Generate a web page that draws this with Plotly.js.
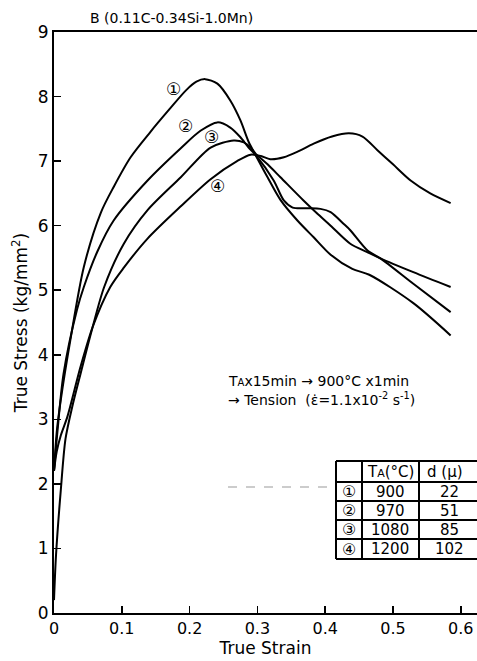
<!DOCTYPE html>
<html>
<head>
<meta charset="utf-8">
<script src="https://cdn.plot.ly/plotly-3.0.1.min.js"></script>
<style>html,body{margin:0;padding:0;background:#fff;}#chart{width:477px;height:661px;}</style>
</head>
<body>
<div id="chart"></div>
<script>
// ---- Data ----
const strain1 = [0, 0.004, 0.01, 0.024, 0.044, 0.069, 0.088, 0.113, 0.142, 0.17, 0.195, 0.21, 0.223, 0.241, 0.26, 0.275, 0.287, 0.297, 0.315, 0.334, 0.359, 0.383, 0.408, 0.44, 0.465, 0.53, 0.585];
const stress1 = [2.2, 2.8, 3.3, 4.22, 5.36, 6.2, 6.6, 7.06, 7.45, 7.8, 8.1, 8.23, 8.27, 8.2, 7.94, 7.63, 7.3, 7.1, 6.75, 6.4, 6.08, 5.82, 5.55, 5.33, 5.24, 4.8, 4.3];

const strain2 = [0, 0.005, 0.014, 0.034, 0.044, 0.064, 0.088, 0.138, 0.187, 0.216, 0.241, 0.26, 0.275, 0.287, 0.297, 0.324, 0.339, 0.352, 0.373, 0.393, 0.408, 0.427, 0.437, 0.462, 0.482, 0.53, 0.585];
const stress2 = [2.2, 2.8, 3.7, 4.7, 5.05, 5.6, 6.08, 6.7, 7.2, 7.47, 7.6, 7.52, 7.37, 7.21, 7.1, 6.7, 6.39, 6.28, 6.27, 6.26, 6.21, 6.03, 5.93, 5.62, 5.49, 5.1, 4.66];

const strain3 = [0, 0.003, 0.01, 0.017, 0.027, 0.039, 0.057, 0.074, 0.103, 0.138, 0.187, 0.231, 0.265, 0.28, 0.29, 0.297, 0.315, 0.334, 0.368, 0.387, 0.408, 0.437, 0.462, 0.482, 0.53, 0.585];
const stress3 = [0.2, 0.9, 1.9, 2.7, 3.2, 3.7, 4.43, 5.05, 5.72, 6.24, 6.75, 7.21, 7.32, 7.29, 7.21, 7.12, 6.95, 6.75, 6.39, 6.2, 6.0, 5.72, 5.59, 5.49, 5.28, 5.05];

const strain4 = [0, 0.004, 0.01, 0.02, 0.039, 0.057, 0.083, 0.103, 0.138, 0.187, 0.231, 0.27, 0.29, 0.305, 0.319, 0.339, 0.36, 0.383, 0.41, 0.435, 0.455, 0.477, 0.5, 0.526, 0.555, 0.585];
const stress4 = [2.2, 2.5, 2.75, 3.05, 3.81, 4.43, 5.05, 5.35, 5.8, 6.3, 6.72, 7.0, 7.1, 7.08, 7.03, 7.06, 7.15, 7.27, 7.38, 7.43, 7.38, 7.17, 6.95, 6.7, 6.5, 6.35];

const curveLabels = ['①', '②', '③', '④'];
const labelStrain = [0.176, 0.194, 0.232, 0.241];
const labelStress = [8.12, 7.55, 7.37, 6.61];

const tableHeaderTA = 'T<span style="font-size:11px">A</span>(°C)';
const tableHeaderD = 'd (μ)';
const tableTA = [900, 970, 1080, 1200];
const tableD = [22, 51, 85, 102];

const xTickVals = [0, 0.1, 0.2, 0.3, 0.4, 0.5, 0.6];
const xTickText = ['0', '0.1', '0.2', '0.3', '0.4', '0.5', '0.6'];
const yTickVals = [0, 1, 2, 3, 4, 5, 6, 7, 8, 9];

// ---- Layout helpers ----
const W = 477, H = 661;
const M = {l: 54, r: 0, t: 32, b: 48};
const pw = W - M.l - M.r, ph = H - M.t - M.b;
const px = v => (v - M.l) / pw;          // pixel x -> paper
const py = v => (H - M.b - v) / ph;      // pixel y -> paper
const FONT = 'DejaVu Sans, Noto Sans CJK JP, sans-serif';

const lineStyle = {color: '#000', width: 2, shape: 'spline', smoothing: 0.8};
const traces = [
  {x: strain1, y: stress1},
  {x: strain2, y: stress2},
  {x: strain3, y: stress3},
  {x: strain4, y: stress4}
].map(t => Object.assign(t, {type: 'scatter', mode: 'lines', line: lineStyle, hoverinfo: 'skip', showlegend: false}));

const annotations = [];
curveLabels.forEach((t, i) => annotations.push({
  x: labelStrain[i], y: labelStress[i], xref: 'x', yref: 'y', text: t, showarrow: false,
  xanchor: 'center', yanchor: 'middle',
  font: {family: FONT, size: 17, color: '#000'}
}));
annotations.push({x: px(88), y: py(18), xref: 'paper', yref: 'paper', xanchor: 'left', yanchor: 'middle',
  text: 'B (0.11C-0.34Si-1.0Mn)', showarrow: false, font: {family: FONT, size: 14, color: '#000'}});
annotations.push({x: px(226), y: py(381), xref: 'paper', yref: 'paper', xanchor: 'left', yanchor: 'middle',
  text: 'T<span style="font-size:10px">A</span>x15min → 900°C x1min', showarrow: false, font: {family: FONT, size: 14, color: '#000'}});
annotations.push({x: px(226), y: py(399), xref: 'paper', yref: 'paper', xanchor: 'left', yanchor: 'middle',
  text: '→ Tension  (ε̇=1.1x10<sup>-2</sup> s<sup>-1</sup>)', showarrow: false, font: {family: FONT, size: 14, color: '#000'}});

// table
const rowLines = [461, 482, 501, 520, 539, 559];
const colLines = [336, 362, 419];
const colCenters = [349, 390, 449];
const shapes = [];
rowLines.forEach(r => shapes.push({type: 'line', xref: 'paper', yref: 'paper', x0: px(336), x1: px(490), y0: py(r), y1: py(r), line: {color: '#000', width: 2}}));
colLines.forEach(c => shapes.push({type: 'line', xref: 'paper', yref: 'paper', x0: px(c), x1: px(c), y0: py(461), y1: py(559), line: {color: '#000', width: 2}}));
shapes.push({type: 'line', xref: 'paper', yref: 'paper', x0: px(228), x1: px(334), y0: py(487), y1: py(487), line: {color: '#999', width: 1, dash: 'dash'}});

const tf = {family: FONT, size: 15, color: '#000'};
const cell = (xPix, yPix, text, font) => annotations.push({x: px(xPix), y: py(yPix), xref: 'paper', yref: 'paper',
  xanchor: 'center', yanchor: 'middle', text: text, showarrow: false, font: font});
cell(colCenters[1], 472, tableHeaderTA, tf);
cell(colCenters[2] - 4, 472, tableHeaderD, tf);
for (let i = 0; i < tableTA.length; i++) {
  const yc = (rowLines[i + 1] + rowLines[i + 2]) / 2;
  cell(colCenters[0], yc, curveLabels[i], {family: FONT, size: 16, color: '#000'});
  cell(colCenters[1], yc, String(tableTA[i]), tf);
  cell(colCenters[2], yc, String(tableD[i]), tf);
}

const layout = {
  width: W, height: H,
  margin: M,
  paper_bgcolor: '#fff', plot_bgcolor: '#fff',
  font: {family: FONT, color: '#000'},
  showlegend: false,
  xaxis: {
    range: [0, pw / 678], tickvals: xTickVals, ticktext: xTickText,
    ticks: 'inside', ticklen: 7, tickwidth: 1.5, tickcolor: '#000',
    showline: true, linewidth: 2, linecolor: '#000', mirror: true,
    showgrid: false, zeroline: false,
    tickfont: {family: FONT, size: 16, color: '#000'},
    title: {text: 'True Strain', font: {family: FONT, size: 17, color: '#000'}, standoff: 4}
  },
  yaxis: {
    range: [0, 9], tickvals: yTickVals,
    ticks: 'inside', ticklen: 7, tickwidth: 1.5, tickcolor: '#000',
    showline: true, linewidth: 2, linecolor: '#000', mirror: false,
    showgrid: false, zeroline: false,
    tickfont: {family: FONT, size: 17, color: '#000'},
    title: {text: 'True Stress (kg/mm<sup>2</sup>)', font: {family: FONT, size: 17, color: '#000'}, standoff: 6}
  },
  annotations: annotations,
  shapes: shapes
};

Plotly.newPlot('chart', traces, layout, {displayModeBar: false, staticPlot: true});
</script>
</body>
</html>
